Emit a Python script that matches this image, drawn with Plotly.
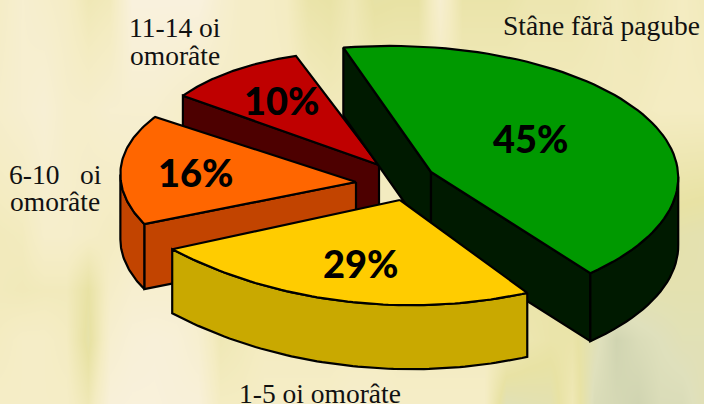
import numpy as np
import plotly.graph_objects as go

# ---- data ----
categories = ["Stâne fără pagube", "1-5 oi omorâte", "6-10 oi omorâte", "11-14 oi omorâte"]
values = [45, 29, 16, 10]
percent_text = ["45%", "29%", "16%", "10%"]

# ---- styling ----
top_colors = ["#009900", "#ffcc00", "#ff6600", "#bf0000"]
wall_colors = ["#001a00", "#c9a900", "#c24400", "#4d0000"]
first_angle = -20.5
# per slice projection of the exploded, tilted pie:
# apex, (a, b, c, d) linear map, (q, p) perspective, depth, angle correction
apex = [(431, 172), (400, 200), (356, 182), (379, 165)]
maps = [(284, 0, 0, 131), (308, -6, 8, 168), (235.5, 8, 4, 112), (234.5, 1, 8, 113.5)]
persp = [(0.15, -0.05), (0, 0.6), (0, 0), (0, 0)]
depth = [68, 64, 65, 65]
rot = [2.5, 0, 0, 0]
draw_order = [3, 0, 2, 1]
label_pos = [(531, 138), (361, 263), (196, 172), (282, 100)]

# background texture: levels read across the picture (columns every 22 px)
bg_x = list(range(0, 705, 22))
bg_y = [0, 110, 235, 290, 340, 404]
bg_levels = [
    [.30, .20, .25, .30, .45, .40, .05, .05, .05, .05, .20, .30, .30, .35, .55, .58, .45, .62, .60, .60, .20, .55, .55, .55, .50, .50, .50, .45, .40, .45, .40, .35, .40],
    [.25, .20, .15, .25, .25, .20, .20, .20, .25, .30, .30, .30, .30, .30, .35, .40, .40, .40, .40, .40, .40, .40, .40, .40, .40, .40, .40, .40, .40, .38, .35, .35, .35],
    [.40, .38, .25, .25, .30, .35, .30, .30, .30, .30, .30, .30, .30, .35, .35, .35, .35, .35, .35, .35, .35, .40, .40, .45, .50, .55, .55, .60, .65, .65, .65, .68, .70],
    [.40, .42, .40, .40, .60, .28, .20, .20, .20, .25, .35, .35, .35, .35, .35, .35, .35, .35, .35, .35, .35, .40, .45, .50, .55, .55, .60, .65, .65, .70, .70, .70, .70],
    [.35, .30, .30, .35, .65, .20, .12, .10, .12, .20, .45, .40, .35, .35, .35, .35, .35, .35, .35, .35, .35, .35, .35, .40, .50, .55, .55, .75, .95, .85, .80, .75, .75],
    [.30, .30, .30, .30, .45, .10, .08, .08, .10, .10, .35, .35, .30, .30, .30, .30, .25, .25, .30, .30, .30, .30, .30, .75, .72, .70, .45, .85, .90, .95, .85, .85, .75],
]
bg_scale = [[0, "#faf2e2"], [0.35, "#f4ecc2"], [0.6, "#e8e2a4"], [0.8, "#dfe0bc"], [1, "#cbd0ad"]]


def slice_points(i, start):
    th = np.radians(np.linspace(start, start + values[i] * 3.6, 70))
    u, v = np.sin(th), -np.cos(th)
    a, b, c, d = maps[i]
    q, p = persp[i]
    w = 1 + q * u + p * v
    return apex[i][0] + (a * u + b * v) / w, apex[i][1] + (c * u + d * v) / w


def poly(fig, xs, ys, color):
    fig.add_trace(go.Scatter(x=list(xs) + [xs[0]], y=list(ys) + [ys[0]], mode="lines", fill="toself",
                             fillcolor=color, line=dict(color="#000000", width=2.2),
                             hoverinfo="skip", showlegend=False))


def wall(fig, xs, ys, h, color):
    xs, ys = list(xs), list(ys)
    poly(fig, xs + xs[::-1], ys + [y + h for y in ys[::-1]], color)


fig = go.Figure()
fig.add_trace(go.Heatmap(x=bg_x, y=bg_y, z=bg_levels, zmin=0, zmax=1, colorscale=bg_scale,
                         showscale=False, zsmooth="best", hoverinfo="skip"))

starts = first_angle + np.cumsum([0] + values[:-1]) * 3.6
for i in draw_order:
    ax, ay = slice_points(i, starts[i] + rot[i])
    h, col = depth[i], wall_colors[i]
    cx, cy = apex[i]
    # radial walls facing the viewer
    if ax[0] < cx:
        wall(fig, [cx, ax[0]], [cy, ay[0]], h, col)
    if cx < ax[-1]:
        wall(fig, [ax[-1], cx], [ay[-1], cy], h, col)
    # outer wall: the part of the rim that runs leftwards on screen
    idx = np.where(np.diff(ax) < 0)[0]
    if len(idx):
        j0, j1 = idx[0], idx[-1] + 1
        wall(fig, ax[j0:j1 + 1], ay[j0:j1 + 1], h, col)
    poly(fig, [cx] + list(ax), [cy] + list(ay), top_colors[i])

annotations = []
for i, (x, y) in enumerate(label_pos):
    annotations.append(dict(x=x, y=y, text=percent_text[i], showarrow=False, xanchor="center", yanchor="middle",
                            font=dict(family="Lato", size=38, weight=900, color="#000000")))
serif = dict(family="Liberation Serif", size=27.5, color="#111111")
for text, x, y in [
    ("Stâne fără pagube", 601, 25),
    ("11-14 oi", 175, 27),
    ("omorâte", 175, 55),
    ("6-10\u00a0\u00a0\u00a0oi", 55, 174),
    ("omorâte", 55, 201),
    ("1-5 oi omorâte", 320, 393),
]:
    annotations.append(dict(x=x, y=y, text=text, showarrow=False, xanchor="center", yanchor="middle", font=serif))

fig.update_layout(
    width=704, height=404, margin=dict(l=0, r=0, t=0, b=0),
    paper_bgcolor="#f5efcf", plot_bgcolor="#f5efcf", showlegend=False,
    xaxis=dict(range=[0, 704], visible=False, fixedrange=True),
    yaxis=dict(range=[404, 0], visible=False, fixedrange=True),
    annotations=annotations,
)
fig.write_html("out.html", config={"displayModeBar": False},
               post_script="document.body.style.margin='0';document.body.style.overflow='hidden';")
